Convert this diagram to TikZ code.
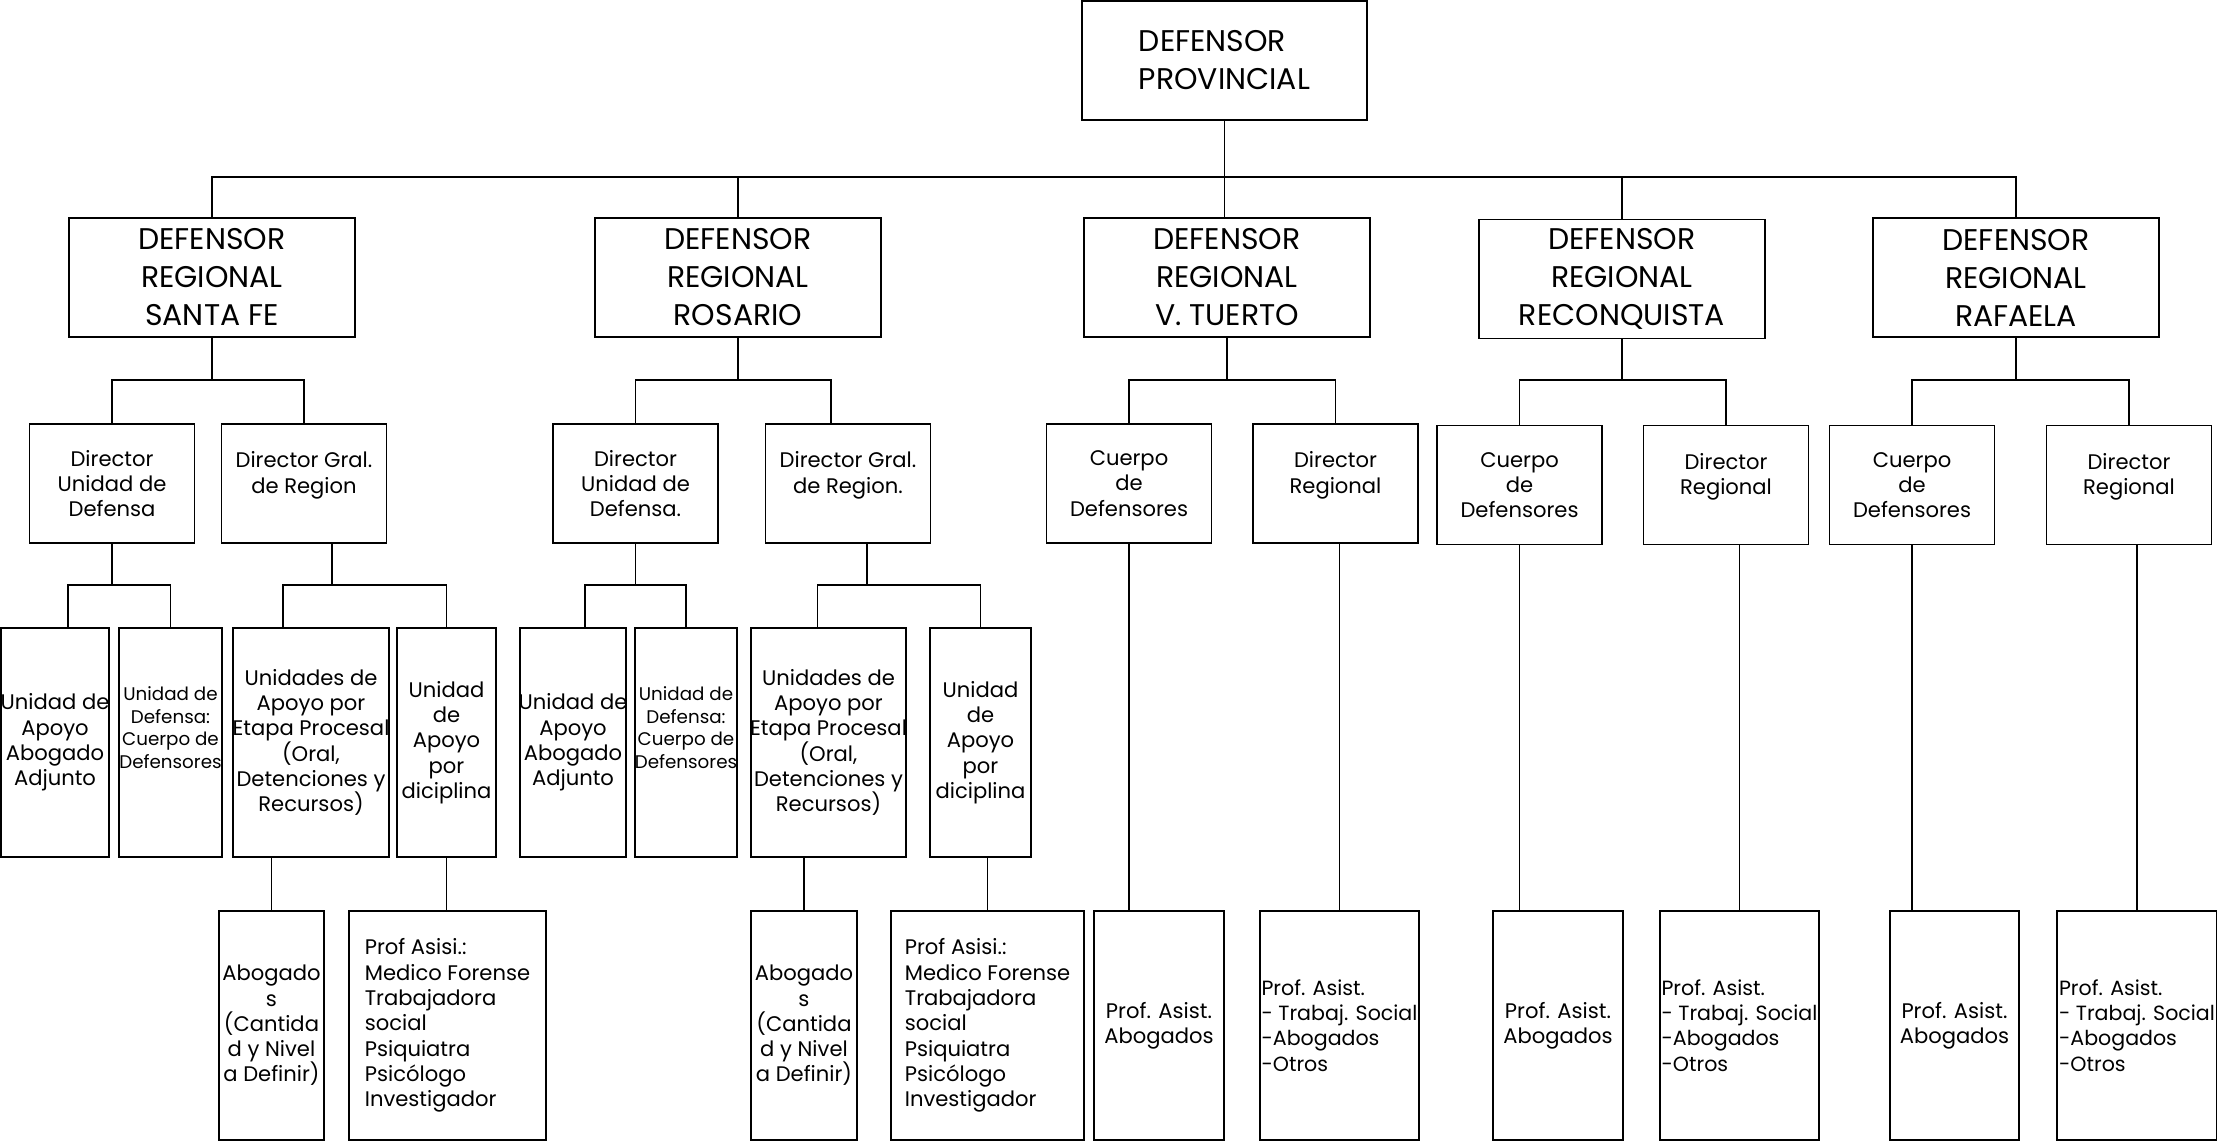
\documentclass[tikz,border=0pt]{standalone}
\usepackage{fontspec}
\setmainfont{Poppins}
\tikzset{
  box/.style={draw, line width=0.5pt, inner sep=0.5pt, align=center},
  regbox/.style={box, minimum width=2.86cm, minimum height=1.19cm, font=\fontsize{8.5}{10.8}\selectfont},
  dirbox/.style={box, minimum width=1.65cm, minimum height=1.19cm, font=\fontsize{6.0}{7.2}\selectfont},
  unitbox/.style={box, inner xsep=-3pt, minimum height=2.29cm, font=\fontsize{6.0}{7.2}\selectfont},
  tinybox/.style={unitbox, font=\fontsize{5.2}{6.4}\selectfont},
  leafbox/.style={box, minimum height=2.29cm, font=\fontsize{6.0}{7.2}\selectfont},
  listbox/.style={leafbox, align=left, font=\fontsize{5.85}{7.2}\selectfont},
  up/.style={text depth=0.22cm},
  link/.style={line width=0.5pt},
}
\begin{document}
\begin{tikzpicture}[x=0.01cm,y=-0.01cm]
\useasboundingbox (0,0) rectangle (2217,1142);
%%% rows of the brackets
\coordinate (row1) at (0,177);
\coordinate (row2) at (0,380);
\coordinate (row3) at (0,585);
%%%%%% Top
\node[regbox, minimum width=2.85cm, align=left] (prov) at (1224.5,60.5) {DEFENSOR\\PROVINCIAL};
%%%%%% The regional defenders
\node[regbox] (sf)  at (212,277.5)  {DEFENSOR\\REGIONAL\\SANTA FE};
\node[regbox] (ros) at (738,277.5)  {DEFENSOR\\REGIONAL\\ROSARIO};
\node[regbox] (vt)  at (1227,277.5) {DEFENSOR\\REGIONAL\\V. TUERTO};
\node[regbox] (rec) at (1622,279)   {DEFENSOR\\REGIONAL\\RECONQUISTA};
\node[regbox] (raf) at (2016,277.5) {DEFENSOR\\REGIONAL\\RAFAELA};
%%%%%% Second level
\node[dirbox] (sfdu)  at (112,483.5)    {Director\\Unidad de\\Defensa};
\node[dirbox, up] (sfdg)  at (304,483.5) {Director Gral.\\de Region};
\node[dirbox] (rosdu) at (635.5,483.5)  {Director\\Unidad de\\Defensa.};
\node[dirbox, up] (rosdg) at (848,483.5) {Director Gral.\\de Region.};
\node[dirbox] (vtcd)  at (1129,483.5)   {Cuerpo\\de\\Defensores};
\node[dirbox, up] (vtdr)  at (1335.5,483.5) {Director\\Regional};
\node[dirbox] (reccd) at (1519.5,485)   {Cuerpo\\de\\Defensores};
\node[dirbox, up] (recdr) at (1726,485) {Director\\Regional};
\node[dirbox] (rafcd) at (1912,485)     {Cuerpo\\de\\Defensores};
\node[dirbox, up] (rafdr) at (2129,485) {Director\\Regional};
%%%%%% Third level (Santa Fe and Rosario)
\node[unitbox, minimum width=1.08cm] (sfua) at (55,742.5) {Unidad de\\Apoyo\\Abogado\\Adjunto};
\node[tinybox, minimum width=1.03cm, text depth=0.3cm] (sfud) at (170.5,742.5) {Unidad de\\Defensa:\\Cuerpo de\\Defensores};
\node[unitbox, minimum width=1.56cm] (sfet) at (311,742.5) {Unidades de\\Apoyo por\\Etapa Procesal\\(Oral,\\Detenciones y\\Recursos)};
\node[unitbox, minimum width=0.99cm] (sfdi) at (446.5,742.5) {Unidad\\de\\Apoyo\\por\\diciplina};
\node[unitbox, minimum width=1.06cm] (rosua) at (573,742.5) {Unidad de\\Apoyo\\Abogado\\Adjunto};
\node[tinybox, minimum width=1.02cm, text depth=0.3cm] (rosud) at (686,742.5) {Unidad de\\Defensa:\\Cuerpo de\\Defensores};
\node[unitbox, minimum width=1.55cm] (roset) at (828.5,742.5) {Unidades de\\Apoyo por\\Etapa Procesal\\(Oral,\\Detenciones y\\Recursos)};
\node[unitbox, minimum width=1.01cm] (rosdi) at (980.5,742.5) {Unidad\\de\\Apoyo\\por\\diciplina};
%%%%%% Bottom level
\node[unitbox, minimum width=1.05cm] (sfab) at (271.5,1025.5) {Abogado\\s\\(Cantida\\d y Nivel\\a Definir)};
\node[leafbox, minimum width=1.97cm, align=left] (sfpa) at (447.5,1025.5) {Prof Asisi.:\\Medico Forense\\Trabajadora\\social\\Psiquiatra\\Psicólogo\\Investigador};
\node[unitbox, minimum width=1.06cm] (rosab) at (804,1025.5) {Abogado\\s\\(Cantida\\d y Nivel\\a Definir)};
\node[leafbox, minimum width=1.93cm, align=left] (rospa) at (987.5,1025.5) {Prof Asisi.:\\Medico Forense\\Trabajadora\\social\\Psiquiatra\\Psicólogo\\Investigador};
\node[leafbox, minimum width=1.30cm] (vtpa) at (1159,1025.5) {Prof. Asist.\\Abogados};
\node[listbox, minimum width=1.57cm] (vtpl) at (1339.5,1025.5) {Prof. Asist.\\- Trabaj. Social\\-Abogados\\-Otros};
\node[leafbox, minimum width=1.30cm] (recpa) at (1558,1025.5) {Prof. Asist.\\Abogados};
\node[listbox, minimum width=1.57cm] (recpl) at (1739.5,1025.5) {Prof. Asist.\\- Trabaj. Social\\-Abogados\\-Otros};
\node[leafbox, minimum width=1.29cm] (rafpa) at (1954.5,1025.5) {Prof. Asist.\\Abogados};
\node[listbox, minimum width=1.54cm] (rafpl) at (2137,1025.5) {Prof. Asist.\\- Trabaj. Social\\-Abogados\\-Otros};
%%%%%% Top bus
\draw[link] (prov.south) -- (prov.south |- vt.north);
\draw[link] (sf.north) |- (raf.north |- row1) -- (raf.north);
\draw[link] (ros.north) -- (ros.north |- row1);
\draw[link] (rec.north) -- (rec.north |- row1);
%%%%%% Regional -> second level
\draw[link] (sf.south) -- (sf.south |- row2);
\draw[link] (sfdu.north) |- (sfdg.north |- row2) -- (sfdg.north);
\draw[link] (ros.south) -- (ros.south |- row2);
\draw[link] (rosdu.north) |- ([xshift=-0.17cm]rosdg.north |- row2) -- ([xshift=-0.17cm]rosdg.north);
\draw[link] (vt.south) -- (vt.south |- row2);
\draw[link] (vtcd.north) |- (vtdr.north |- row2) -- (vtdr.north);
\draw[link] (rec.south) -- (rec.south |- row2);
\draw[link] (reccd.north) |- (recdr.north |- row2) -- (recdr.north);
\draw[link] (raf.south) -- (raf.south |- row2);
\draw[link] (rafcd.north) |- (rafdr.north |- row2) -- (rafdr.north);
%%%%%% Second level -> units
\draw[link] (sfdu.south) -- (sfdu.south |- row3);
\draw[link] ([xshift=0.13cm]sfua.north) |- (sfud.north |- row3) -- (sfud.north);
\draw[link] ([xshift=0.28cm]sfdg.south) -- ([xshift=0.28cm]sfdg.south |- row3);
\draw[link] ([xshift=-0.28cm]sfet.north) |- (sfdi.north |- row3) -- (sfdi.north);
\draw[link] (rosdu.south) -- (rosdu.south |- row3);
\draw[link] ([xshift=0.12cm]rosua.north) |- (rosud.north |- row3) -- (rosud.north);
\draw[link] ([xshift=0.19cm]rosdg.south) -- ([xshift=0.19cm]rosdg.south |- row3);
\draw[link] ([xshift=-0.11cm]roset.north) |- (rosdi.north |- row3) -- (rosdi.north);
%%%%%% Units -> bottom level
\draw[link] (sfab.north) -- (sfab.north |- sfet.south);
\draw[link] (sfdi.south) -- (sfdi.south |- sfpa.north);
\draw[link] (rosab.north) -- (rosab.north |- roset.south);
\draw[link] (rospa.north) -- (rospa.north |- rosdi.south);
\draw[link] (vtcd.south) -- (vtcd.south |- vtpa.north);
\draw[link] (vtpl.north) -- (vtpl.north |- vtdr.south);
\draw[link] (reccd.south) -- (reccd.south |- recpa.north);
\draw[link] (recpl.north) -- (recpl.north |- recdr.south);
\draw[link] (rafcd.south) -- (rafcd.south |- rafpa.north);
\draw[link] (rafpl.north) -- (rafpl.north |- rafdr.south);
\end{tikzpicture}
\end{document}
